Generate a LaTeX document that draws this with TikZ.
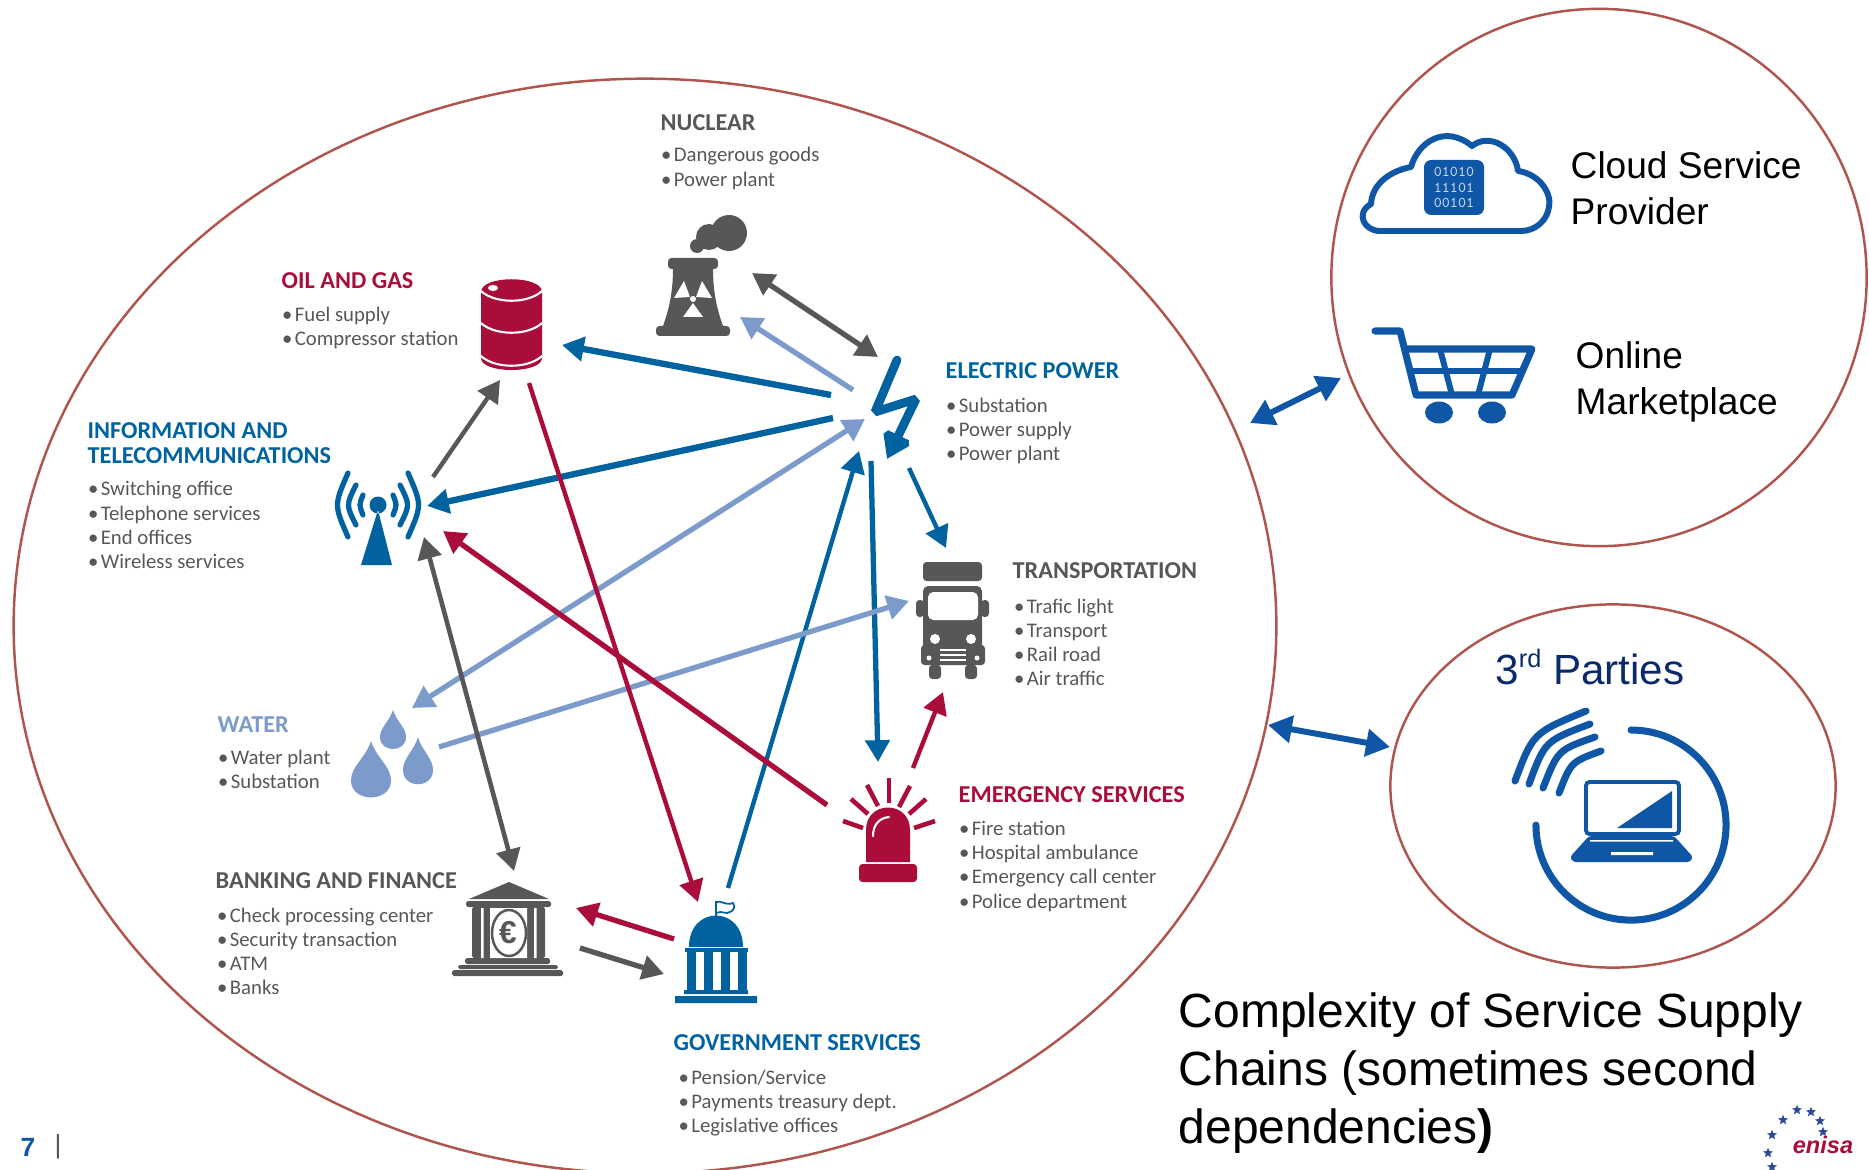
\documentclass[tikz,border=0pt]{standalone}
\usepackage{fontspec}
\setmainfont{Liberation Sans}
\newfontfamily\sectorfont{Carlito}
\usepackage{tikz}
\usetikzlibrary{positioning,arrows.meta,shapes.geometric}
\definecolor{sblue}{HTML}{00629F}
\definecolor{sred}{HTML}{AB0D3A}
\definecolor{sgray}{HTML}{575757}
\definecolor{slight}{HTML}{7C9BCB}
\definecolor{ringc}{HTML}{B0544E}
\definecolor{cblue}{HTML}{0F57A6}
\definecolor{navy}{HTML}{0B2A6B}
\definecolor{starc}{HTML}{2D4A9A}
\newcommand{\bu}{•\hspace{0.7pt}}
\tikzset{
  head/.style={anchor=west,inner sep=0pt,align=left,font=\sectorfont\bfseries\fontsize{6.9}{7.1}\selectfont},
  items/.style={inner sep=0pt,align=left,text=sgray,font=\sectorfont\fontsize{5.9}{6.9}\selectfont},
  ring/.style={draw=ringc,line width=0.7pt,ellipse,inner sep=0pt},
  big/.style={inner sep=0pt,align=left,anchor=west,font=\fontsize{10.55}{13}\selectfont},
  link/.style={line width=1.5pt,-{Triangle[length=6.2pt,width=6.8pt]}},
  linkb/.style={link,line width=1.8pt},
  linkt/.style={link,line width=1.25pt},
  twoway/.style={line width=1.5pt,{Triangle[length=6.2pt,width=6.8pt]}-{Triangle[length=6.2pt,width=6.8pt]}},
  side/.style={line width=1.7pt,cblue,{Triangle[length=6.8pt,width=7.6pt]}-{Triangle[length=6.8pt,width=7.6pt]}}
}
\begin{document}
\begin{tikzpicture}[x=0.01cm,y=-0.01cm]
  \useasboundingbox (0,0) rectangle (1869,1170);
  \node[ring,minimum width=12.62cm,minimum height=10.94cm] (sectors) at (645,626) {};
  \node[ring,minimum width=5.35cm,minimum height=5.37cm] (online) at (1599,277.5) {};
  \node[ring,minimum width=4.45cm,minimum height=3.63cm] (parties) at (1613,786) {};

  % sector labels
  \node[head,text=sgray] (nucT) at (660,123) {NUCLEAR};
  \node[items,below right=4.3pt and 0.1pt of nucT.south west] (nucL) {\bu Dangerous goods\\\bu Power plant};
  \node[head,text=sred] (oilT) at (281,281) {OIL AND GAS};
  \node[items,below right=4.7pt and 0.1pt of oilT.south west] (oilL) {\bu Fuel supply\\\bu Compressor station};
  \node[head,text=sblue] (telT) at (87,443) {INFORMATION AND\\TELECOMMUNICATIONS};
  \node[items,below right=4.7pt and 0.1pt of telT.south west] (telL) {\bu Switching office\\\bu Telephone services\\\bu End offices\\\bu Wireless services};
  \node[head,text=sblue] (eleT) at (945,371) {ELECTRIC POWER};
  \node[items,below right=4.9pt and 0.1pt of eleT.south west] (eleL) {\bu Substation\\\bu Power supply\\\bu Power plant};
  \node[head,text=sgray] (traT) at (1012,571) {TRANSPORTATION};
  \node[items,below right=5.2pt and 0.4pt of traT.south west] (traL) {\bu Trafic light\\\bu Transport\\\bu Rail road\\\bu Air traffic};
  \node[head,text=slight] (watT) at (217,725) {WATER};
  \node[items,below right=4.4pt and 0.1pt of watT.south west] (watL) {\bu Water plant\\\bu Substation};
  \node[head,text=sred] (emeT) at (958,795) {EMERGENCY SERVICES};
  \node[items,below right=4.7pt and 0.1pt of emeT.south west] (emeL) {\bu Fire station\\\bu Hospital ambulance\\\bu Emergency call center\\\bu Police department};
  \node[head,text=sgray] (banT) at (215,881) {BANKING AND FINANCE};
  \node[items,below right=4.9pt and 0.4pt of banT.south west] (banL) {\bu Check processing center\\\bu Security transaction\\\bu ATM\\\bu Banks};
  \node[head,text=sblue] (govT) at (673,1043) {GOVERNMENT SERVICES};
  \node[items,below right=5pt and 1.4pt of govT.south west] (govL) {\bu Pension/Service\\\bu Payments treasury dept.\\\bu Legislative offices};

  % nuclear
  \fill[sgray] (729,233) circle (18) (709,237) circle (13) (697,246) circle (7);
  \fill[sgray,rounded corners=1pt] (668,258) rectangle (718,269);
  \fill[sgray] (673,268) .. controls (673,295) and (668,312) .. (663,326) -- (723,326) .. controls (718,312) and (713,295) .. (713,268) -- cycle;
  \fill[sgray,rounded corners=1pt] (656,326) rectangle (730,336);
  \fill[white] (684,281) -- (674,298) -- (690,297) -- cycle (702,281) -- (712,298) -- (696,297) -- cycle (693,303) -- (683,317) -- (703,317) -- cycle (693,299) circle (3);

  % oil barrel
  \fill[sred] (481,292) .. controls (481,275) and (542,275) .. (542,292) -- (542,358) .. controls (542,374) and (481,374) .. (481,358) -- cycle;
  \foreach \y in {291,323,356}
    \draw[white,line width=0.6pt] (481,\y) .. controls (495,\y+13) and (528,\y+13) .. (542,\y);
  \fill[white] (493,288) circle[x radius=5,y radius=3];

  % telecom mast
  \fill[sblue] (378,505) circle (8.5) (378,510) -- (361,565) -- (392,565) -- cycle;
  \foreach \s in {-1,1}
    \foreach \t/\c/\h in {15/19/10,22/32/20,30/44/32}
      \draw[sblue,line width=1.5pt,line cap=round] (378+\s*\t,505-\h) .. controls (378+\s*\c,505) .. (378+\s*\t,505+\h);

  % lightning
  \draw[sblue,line width=2.5pt,line cap=round,miter limit=2,-{Triangle[length=7.5pt,width=9.5pt]}] (897,360) -- (875,412) -- (916,399) -- (887,459);

  % truck
  \fill[sgray,rounded corners=1pt] (923,562) rectangle (982,581);
  \fill[sgray,rounded corners=1.5pt] (923,586) rectangle (982,660);
  \fill[sgray,rounded corners=1pt] (921,645) rectangle (985,665) (916,600) rectangle (924,617) (981,600) rectangle (989,617) (929,665) rectangle (941,679) (965,665) rectangle (977,679);
  \fill[white,rounded corners=1.5pt] (928,592) rectangle (978,620);
  \fill[white] (935,639) circle (5) (971,639) circle (5) (929,658) circle (2.5) (977,658) circle (2.5);
  \foreach \y in {650,655,660}
    \draw[white,line width=0.35pt] (940,\y) -- (966,\y);

  % water
  \foreach \cx/\top/\r/\bot in {371/741/20/801,418/737/15/787,393/710/13/751}
    \fill[slight] (\cx,\top) .. controls (\cx+0.3*\r,\top+0.3*\bot-0.3*\top) and (\cx+\r,\top+0.42*\bot-0.42*\top) .. (\cx+\r,\top+0.66*\bot-0.66*\top) .. controls (\cx+\r,\bot+2) and (\cx-\r,\bot+2) .. (\cx-\r,\top+0.66*\bot-0.66*\top) .. controls (\cx-\r,\top+0.42*\bot-0.42*\top) and (\cx-0.3*\r,\top+0.3*\bot-0.3*\top) .. (\cx,\top);

  % siren
  \fill[sred,rounded corners=1pt] (859,864) rectangle (917,882);
  \fill[sred] (866,862) -- (866,830) .. controls (866,800) and (910,800) .. (910,830) -- (910,862) -- cycle;
  \draw[white,line width=0.6pt,line cap=round] (873,836) .. controls (873,825) and (879,818) .. (889,817);
  \foreach \xa/\ya/\xb/\yb in {843/821/863/828,851/799/868/814,867/785/878/806,889/778/889/803,910/786/899/807,926/799/909/814,935/821/914/828}
    \draw[sred,line width=1.3pt] (\xa,\ya) -- (\xb,\yb);

  % bank
  \fill[sgray] (509,882) -- (469,899) -- (549,899) -- cycle;
  \fill[sgray,rounded corners=0.5pt] (466,901) rectangle (551,907) (472,907) rectangle (545,958) (465,958) rectangle (550,964) (458,965) rectangle (558,969) (452,970) rectangle (563,976);
  \fill[white] (490,908) rectangle (527,958) (481,908) rectangle (483.5,958) (534,908) rectangle (536.5,958);
  \draw[sgray,line width=0.7pt] (509,933) circle[x radius=17,y radius=23];
  \node[inner sep=0pt,text=sgray,font=\bfseries\fontsize{9}{9}\selectfont] (euro) at (508,933) {€};

  % government
  \fill[sblue] (689,947) .. controls (689,905) and (743,905) .. (743,947) -- cycle;
  \draw[sblue,line width=0.5pt] (716,917) -- (716,902) .. controls (722,900) and (725,906) .. (733,903) .. controls (736,907) and (733,911) .. (730,912) .. controls (726,915) and (722,910) .. (716,913);
  \fill[sblue] (685,948) rectangle (748,952);
  \foreach \x in {687,704,721,738}
    \fill[sblue] (\x,952) rectangle (\x+9,990);
  \fill[sblue] (684,990) rectangle (748,994) (675,996) rectangle (757,1003);

  % connectors
  \foreach \n/\x/\y in {nucE/752/273,eleN/878/357,eleL/853/390,nucS/740/317,eleO/831/395,oilE/562/345,
    eleT/833/418,telE/427/506,eleW/865/419,watE/412/708,govE/728/888,eleG/859/451,eleM/871/461,emeN/878/762,
    eleR/909/468,traN/946/548,watR/439/747,traW/909/601,emeE/913/768,traS/943/692,emeW/827/805,telS/443/531,
    oilS/529/383,govN/698/902,govW/674/939,banE/576/908,banR/580/948,govL/664/974,telB/424/537,banN/514/871,
    telN/433/477,oilB/500/380,secN/1250/423,onlW/1341/378,secE/1268/725,parW/1390/747}
    \coordinate (\n) at (\x,\y);
  \draw[twoway,sgray] (nucE) -- (eleN);
  \draw[link,slight] (eleL) -- (nucS);
  \draw[linkb,sblue] (eleO) -- (oilE);
  \draw[linkb,sblue] (eleT) -- (telE);
  \draw[twoway,slight] (eleW) -- (watE);
  \draw[linkt,sblue] (govE) -- (eleG);
  \draw[link,sblue] (eleM) -- (emeN);
  \draw[linkt,sblue] (eleR) -- (traN);
  \draw[link,slight] (watR) -- (traW);
  \draw[linkt,sred] (emeE) -- (traS);
  \draw[link,sred] (emeW) -- (telS);
  \draw[linkt,sred] (oilS) -- (govN);
  \draw[link,sred] (govW) -- (banE);
  \draw[link,sgray] (banR) -- (govL);
  \draw[twoway,sgray,line width=1.3pt] (telB) -- (banN);
  \draw[linkt,sgray] (telN) -- (oilB);
  \draw[side] (secN) -- (onlW);
  \draw[side] (secE) -- (parW);

  % cloud
  \draw[cblue,line width=1.7pt,line join=round] (1380,231) .. controls (1364,231) and (1355,213) .. (1371,204) .. controls (1372,184) and (1390,171) .. (1411,167) .. controls (1418,142) and (1445,124) .. (1472,146) .. controls (1490,132) and (1515,148) .. (1518,171) .. controls (1540,174) and (1552,194) .. (1549,207) .. controls (1547,221) and (1535,231) .. (1521,231) -- cycle;
  \fill[cblue,rounded corners=2pt] (1424,160) rectangle (1484,215);
  \node[inner sep=0pt,align=center,text=white!75!cblue,font=\ttfamily\fontsize{4.3}{4.3}\selectfont] (bits) at (1454,187.5) {01010\\11101\\00101};
  \node[big] (cloudT) at (1570,188) {Cloud Service\\Provider};

  % cart
  \draw[cblue,line width=2pt,line cap=round,line join=round] (1375,331) -- (1400,331) -- (1416,395) -- (1512,395) -- (1532,349) -- (1406,349);
  \draw[cblue,line width=1.7pt] (1412,371) -- (1521,371) (1440,349) -- (1452,395) (1490,349) -- (1478,395);
  \fill[cblue] (1439,412.5) circle[x radius=14,y radius=11] (1492,412.5) circle[x radius=14,y radius=11];
  \node[big] (shopT) at (1575,382) {Online\\Marketplace};

  % third parties
  \node[inner sep=0pt,text=navy,font=\fontsize{12}{14}\selectfont] (thirdT) at (1590,667) {3\raisebox{0.42em}{\fontsize{7.2}{7.2}\selectfont rd} Parties};
  \draw[cblue,line width=2pt,line cap=round] (1631,730) arc[start angle=90,end angle=-180,radius=0.95cm];
  \foreach \xa/\ya/\xc/\yc/\xb/\yb in {1586/711/1533/733/1515/781,1590/724/1545/741/1529/784,1595/737/1558/750/1543/788,1601/751/1571/762/1559/793}
    \draw[cblue,line width=2pt,line cap=round] (\xa,\ya) .. controls (\xc,\yc) .. (\xb,\yb);
  \draw[cblue,line width=1.1pt,rounded corners=1pt] (1586,782) rectangle (1679,834);
  \fill[cblue] (1617,828) -- (1672,791) -- (1672,828) -- cycle;
  \fill[cblue,rounded corners=0.8pt] (1589,836) -- (1674,836) -- (1693,857) -- (1690,862) -- (1573,862) -- (1570,857) -- cycle;
  \fill[white] (1590,840) rectangle (1673,841.5) (1611,852) rectangle (1653,855);

  % footer
  \node[big,font=\fontsize{13.65}{16.4}\selectfont] (caption) at (1178,1073) {Complexity of Service Supply\\Chains (sometimes second\\dependencies{\bfseries )}};
  \node[inner sep=0pt,text=cblue,font=\bfseries\fontsize{7.5}{8}\selectfont] (pageno) at (28,1147) {7};
  \node[inner sep=0pt,text=sgray,font=\fontsize{7.5}{8}\selectfont] (pagebar) at (58,1147) {|};
  \node[inner sep=0pt,text=sred,font=\bfseries\itshape\fontsize{6.7}{7}\selectfont] (enisa) at (1823,1145) {enisa};
  \foreach \x/\y [count=\i] in {1797/1110,1811/1112,1783/1120,1820/1121,1772/1135,1823/1132,1768/1153,1772/1167}
    \node[star,star points=5,star point ratio=2.3,fill=starc,inner sep=0pt,minimum size=3pt] (star\i) at (\x,\y) {};
\end{tikzpicture}
\end{document}
